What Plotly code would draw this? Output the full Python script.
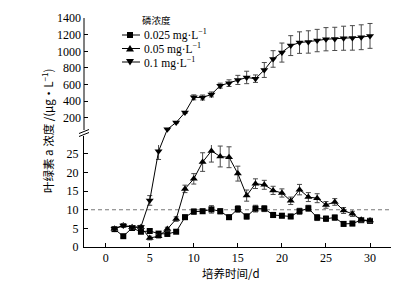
import plotly.graph_objects as go

# ---------------- data ----------------
days = list(range(1, 31))

p025 = [4.8, 2.9, 5.1, 4.1, 4.3, 3.6, 3.5, 4.1, 8.0, 9.5,
        9.6, 10.1, 9.6, 8.0, 10.2, 8.2, 10.3, 10.3, 8.6, 8.4,
        8.2, 9.6, 10.4, 7.9, 7.6, 7.9, 6.2, 6.3, 7.2, 7.0]
p025_err = [0.5, 0.4, 0.6, 0.5, 0.5, 0.5, 0.4, 0.4, 0.6, 0.7,
            0.6, 1.0, 0.7, 0.6, 0.9, 0.7, 0.9, 0.8, 0.7, 0.6,
            0.6, 0.8, 0.8, 0.8, 0.7, 0.7, 0.6, 0.6, 0.6, 0.6]

p05 = [4.9, 5.8, 5.3, 5.3, 2.4, 2.9, 4.8, 7.5, 15.6, 18.3,
       22.8, 25.8, 24.3, 24.1, 19.7, 13.8, 17.0, 16.7, 15.2, 14.5,
       12.4, 15.4, 13.4, 13.1, 11.3, 12.1, 9.8, 8.9, 7.3, 7.1]
p05_err = [0.4, 0.5, 0.4, 0.4, 0.5, 0.5, 0.5, 0.6, 1.0, 1.4,
           2.5, 3.0, 2.8, 2.8, 2.0, 1.5, 1.3, 1.2, 1.1, 1.1,
           1.0, 1.4, 1.2, 1.2, 0.9, 0.9, 0.8, 0.7, 0.6, 0.6]

p1 = [4.9, 5.8, 5.3, 5.4, 12.5, 25.7, 60, 142, 262, 445,
      443, 480, 586, 616, 655, 685, 670, 775, 908, 985,
      1069, 1105, 1113, 1130, 1146, 1150, 1158, 1162, 1170, 1186]
p1_err = [0.4, 0.5, 0.4, 0.4, 1.3, 2.2, 5, 8, 12, 30,
          30, 30, 30, 40, 55, 75, 45, 90, 100, 115,
          120, 130, 135, 135, 140, 140, 145, 148, 150, 150]

names = ["0.025 mg·L<sup>−1</sup>", "0.05 mg·L<sup>−1</sup>", "0.1 mg·L<sup>−1</sup>"]
symbols = ["square", "triangle-up", "triangle-down"]
x_ticks = [0, 5, 10, 15, 20, 25, 30]
lo_ticks = [0, 5, 10, 15, 20, 25]
up_ticks = [200, 400, 600, 800, 1000, 1200, 1400]
ref_level = 10

# ---------------- layout geometry ----------------
W, Hfig = 412, 283
ML, MR, MT, MB = 84, 21, 18, 36
PW = W - ML - MR
PH = Hfig - MT - MB


def py(pix):  # pixel row -> paper y
    return (Hfig - MB - pix) / PH


def px(pix):  # pixel column -> paper x
    return (pix - ML) / PW


LO_RANGE = [0, 29.8]
LO_DOM = [0, py(136)]
UP_RANGE = [-130, 1402]
UP_DOM = [py(145), 1]
X_RANGE = [-2.46, 32.38]


def paper_lo(v):
    return LO_DOM[0] + (v - LO_RANGE[0]) / (LO_RANGE[1] - LO_RANGE[0]) * (LO_DOM[1] - LO_DOM[0])


def paper_up(v):
    return UP_DOM[0] + (v - UP_RANGE[0]) / (UP_RANGE[1] - UP_RANGE[0]) * (UP_DOM[1] - UP_DOM[0])


FONT = "Liberation Serif, Times New Roman, Noto Sans CJK SC, serif"
CJK = "Noto Sans CJK SC, Liberation Serif, serif"
ERR_COL = "#4a4a4a"


def err(arr):
    return dict(type="data", array=arr, visible=True, color=ERR_COL, thickness=1, width=2.5)


fig = go.Figure()

fig.add_trace(go.Scatter(x=days, y=p025, mode="lines+markers", name=names[0], showlegend=False,
                         line=dict(color="black", width=1),
                         marker=dict(symbol=symbols[0], size=6, color="black"),
                         error_y=err(p025_err), xaxis="x", yaxis="y"))
fig.add_trace(go.Scatter(x=days, y=p05, mode="lines+markers", name=names[1], showlegend=False,
                         line=dict(color="black", width=1),
                         marker=dict(symbol=symbols[1], size=7, color="black"),
                         error_y=err(p05_err), xaxis="x", yaxis="y"))

# split the 0.1 series across the broken axis
lo_idx = [i for i, v in enumerate(p1) if v <= LO_RANGE[1]]
up_idx = [i for i, v in enumerate(p1) if v > LO_RANGE[1]]

fig.add_trace(go.Scatter(x=[days[i] for i in lo_idx], y=[p1[i] for i in lo_idx],
                         mode="lines+markers", name=names[2], showlegend=False,
                         line=dict(color="black", width=1),
                         marker=dict(symbol=symbols[2], size=7, color="black"),
                         error_y=err([p1_err[i] for i in lo_idx]), xaxis="x", yaxis="y"))
fig.add_trace(go.Scatter(x=[days[i] for i in up_idx], y=[p1[i] for i in up_idx],
                         mode="lines+markers", name=names[2], showlegend=False,
                         line=dict(color="black", width=1),
                         marker=dict(symbol=symbols[2], size=7, color="black"),
                         error_y=err([p1_err[i] for i in up_idx]), xaxis="x", yaxis="y2"))

shapes = []
# connector between last lower point and first upper point
a, b = lo_idx[-1], up_idx[0]
shapes.append(dict(type="line", xref="x", yref="paper",
                   x0=days[a], y0=paper_lo(p1[a]), x1=days[b], y1=paper_up(p1[b]),
                   line=dict(color="black", width=1)))
# dashed reference line
shapes.append(dict(type="line", xref="paper", yref="y", x0=0, x1=1, y0=ref_level, y1=ref_level,
                   line=dict(color="#777777", width=1, dash="4px,3px"), layer="below"))
# upper axis line
shapes.append(dict(type="line", xref="paper", yref="paper", x0=0, x1=0, y0=py(130), y1=1,
                   line=dict(color="black", width=1)))
# axis break marks
for off in (0, 3):
    shapes.append(dict(type="line", xref="paper", yref="paper",
                       x0=px(79), y0=py(133.5 + off), x1=px(89), y1=py(129.5 + off),
                       line=dict(color="black", width=1)))

# ---------------- custom legend (keys + labels) ----------------
legend_rows = [35, 48.5, 62]
key_paths = {
    "square": None,
    "triangle-up": "M-4,-3 L4,-3 L0,3.6 Z",
    "triangle-down": "M-4,3 L4,3 L0,-3.6 Z",
}
annotations = []
for row, sym, name in zip(legend_rows, symbols, names):
    shapes.append(dict(type="line", xref="paper", yref="paper",
                       x0=px(122), x1=px(140), y0=py(row), y1=py(row),
                       line=dict(color="black", width=1)))
    if sym == "square":
        shapes.append(dict(type="rect", xref="paper", yref="paper",
                           xsizemode="pixel", ysizemode="pixel",
                           xanchor=px(130), yanchor=py(row),
                           x0=-3, x1=3, y0=-3, y1=3,
                           fillcolor="black", line=dict(width=0)))
    else:
        shapes.append(dict(type="path", xref="paper", yref="paper",
                           xsizemode="pixel", ysizemode="pixel",
                           xanchor=px(130), yanchor=py(row),
                           path=key_paths[sym],
                           fillcolor="black", line=dict(width=0)))
    annotations.append(dict(text=name, xref="paper", yref="paper", x=px(142), y=py(row),
                            showarrow=False, xanchor="left", yanchor="middle",
                            font=dict(family=FONT, size=11.5, color="black")))

annotations += [
    dict(text="叶绿素 a 浓度 /(μg·L<sup>−1</sup>)", xref="paper", yref="paper",
         x=px(47), y=py(131), textangle=-90, showarrow=False,
         xanchor="center", yanchor="middle", font=dict(family=CJK, size=11.5, color="black")),
    dict(text="培养时间/d", xref="paper", yref="paper", x=px(231), y=py(273),
         showarrow=False, xanchor="center", yanchor="middle",
         font=dict(family=CJK, size=11.5, color="black")),
    dict(text="磷浓度", xref="paper", yref="paper", x=px(156), y=py(20),
         showarrow=False, xanchor="center", yanchor="middle",
         font=dict(family=CJK, size=9.5, color="black")),
]

axis_common = dict(showgrid=False, zeroline=False, ticks="inside", ticklen=4,
                   tickcolor="black", tickwidth=1,
                   tickfont=dict(family=FONT, size=12, color="black"))

fig.update_layout(
    width=W, height=Hfig,
    margin=dict(l=ML, r=MR, t=MT, b=MB),
    paper_bgcolor="white", plot_bgcolor="white",
    font=dict(family=FONT, size=12, color="black"),
    xaxis=dict(domain=[0, 1], range=X_RANGE, tickvals=x_ticks, showline=True,
               linecolor="black", linewidth=1, anchor="y", ticklabelstandoff=0, **axis_common),
    yaxis=dict(domain=LO_DOM, range=LO_RANGE, tickvals=lo_ticks, showline=True,
               linecolor="black", linewidth=1, anchor="x", ticklabelstandoff=2, **axis_common),
    yaxis2=dict(domain=UP_DOM, range=UP_RANGE, tickvals=up_ticks, showline=False,
                anchor="x", ticklabelstandoff=2, **axis_common),
    shapes=shapes,
    showlegend=False,
    annotations=annotations,
)

fig.write_html("out.html",
               config={"displayModeBar": False, "staticPlot": True},
               post_script="document.body.style.margin='0';document.body.style.padding='0';")
